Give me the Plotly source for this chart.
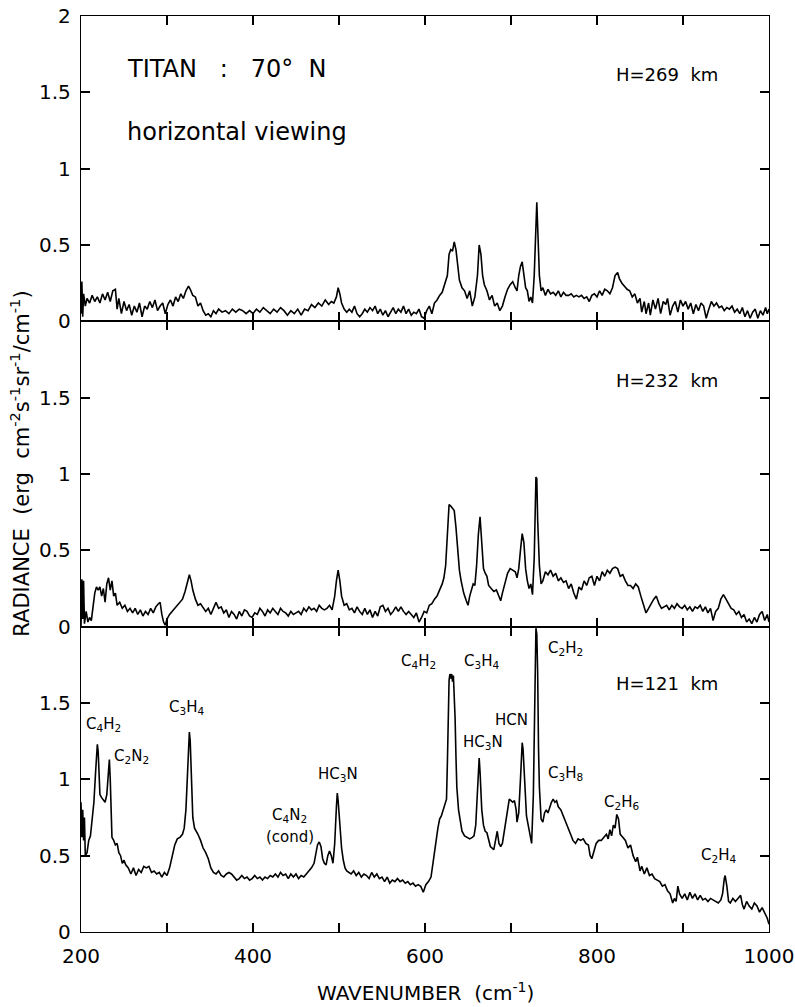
import plotly.graph_objects as go
from plotly.subplots import make_subplots

# ---------------- data ----------------
# H = 269 km
wn_269 = [200, 201, 202, 203, 205, 207, 210, 213, 216, 219, 222, 225, 228, 231, 234, 237, 240, 242, 244, 247,
          250, 253, 256, 259, 262, 265, 268, 271, 274, 277, 280, 283, 286, 289, 292, 295, 298, 301, 304, 307,
          310, 313, 316, 319, 322, 325, 327, 330, 333, 336, 339, 342, 345, 348, 351, 354, 357, 360, 364, 368,
          372, 376, 380, 384, 388, 392, 396, 400, 404, 408, 412, 416, 420, 424, 428, 432, 436, 440, 444, 448,
          452, 456, 460, 464, 468, 472, 476, 480, 484, 488, 491, 494, 497, 499, 501, 503, 506, 509, 512, 515,
          518, 521, 524, 527, 530, 533, 536, 539, 542, 545, 548, 551, 554, 557, 560, 563, 566, 569, 572, 575,
          578, 581, 584, 587, 590, 593, 596, 599, 602, 605, 608, 611, 614, 617, 620, 623, 626, 628, 630, 632,
          634, 636, 638, 640, 643, 646, 649, 652, 655, 658, 661, 663, 665, 667, 669, 672, 675, 678, 681, 684,
          687, 690, 693, 696, 699, 702, 705, 707, 709, 711, 713, 715, 717, 719, 721, 723, 725, 727, 729, 730,
          731, 733, 735, 737, 740, 743, 746, 749, 752, 755, 758, 761, 764, 767, 770, 773, 776, 779, 782, 785,
          788, 791, 794, 797, 800, 803, 806, 809, 812, 815, 818, 821, 824, 826, 829, 832, 835, 838, 841, 844,
          847, 850, 852, 855, 857, 860, 862, 865, 868, 871, 874, 877, 880, 882, 885, 888, 891, 894, 897, 900,
          903, 906, 909, 912, 915, 918, 921, 924, 927, 930, 933, 936, 939, 942, 945, 948, 951, 954, 957, 960,
          963, 966, 969, 972, 975, 978, 981, 984, 987, 990, 993, 996, 998, 1000]
rad_269 = [0.05, 0.26, 0.03, 0.18, 0.10, 0.15, 0.12, 0.17, 0.13, 0.16, 0.12, 0.18, 0.14, 0.19, 0.13, 0.20, 0.21, 0.08, 0.15, 0.05,
           0.13, 0.07, 0.11, 0.04, 0.10, 0.06, 0.12, 0.03, 0.10, 0.08, 0.13, 0.09, 0.14, 0.07, 0.10, 0.12, 0.05, 0.11, 0.14, 0.10,
           0.16, 0.13, 0.18, 0.15, 0.20, 0.23, 0.21, 0.17, 0.16, 0.10, 0.12, 0.07, 0.04, 0.05, 0.03, 0.07, 0.05, 0.08, 0.06, 0.07,
           0.05, 0.08, 0.06, 0.08, 0.07, 0.05, 0.07, 0.05, 0.08, 0.06, 0.09, 0.07, 0.05, 0.08, 0.06, 0.09, 0.07, 0.04, 0.07, 0.05,
           0.08, 0.04, 0.08, 0.07, 0.11, 0.09, 0.12, 0.10, 0.14, 0.11, 0.13, 0.12, 0.16, 0.22, 0.18, 0.12, 0.08, 0.06, 0.08, 0.06,
           0.10, 0.05, 0.03, 0.05, 0.08, 0.06, 0.09, 0.07, 0.10, 0.05, 0.08, 0.04, 0.07, 0.03, 0.06, 0.09, 0.05, 0.08, 0.06, 0.10,
           0.05, 0.08, 0.04, 0.06, 0.05, 0.08, 0.03, 0.02, 0.07, 0.10, 0.05, 0.12, 0.14, 0.17, 0.19, 0.24, 0.30, 0.44, 0.47, 0.46,
           0.52, 0.47, 0.35, 0.27, 0.22, 0.20, 0.15, 0.20, 0.10, 0.16, 0.30, 0.50, 0.44, 0.30, 0.24, 0.20, 0.14, 0.17, 0.10, 0.12,
           0.07, 0.10, 0.16, 0.21, 0.24, 0.26, 0.22, 0.20, 0.30, 0.36, 0.39, 0.30, 0.22, 0.20, 0.13, 0.16, 0.12, 0.30, 0.66, 0.78,
           0.62, 0.30, 0.20, 0.22, 0.17, 0.21, 0.18, 0.19, 0.17, 0.20, 0.16, 0.19, 0.17, 0.17, 0.18, 0.16, 0.17, 0.16, 0.17, 0.15,
           0.16, 0.13, 0.17, 0.18, 0.16, 0.20, 0.17, 0.21, 0.20, 0.18, 0.22, 0.30, 0.32, 0.28, 0.25, 0.23, 0.21, 0.20, 0.16, 0.18,
           0.12, 0.15, 0.06, 0.13, 0.05, 0.12, 0.04, 0.14, 0.08, 0.15, 0.05, 0.13, 0.11, 0.15, 0.04, 0.10, 0.13, 0.06, 0.14, 0.10,
           0.13, 0.08, 0.12, 0.05, 0.11, 0.07, 0.12, 0.10, 0.02, 0.08, 0.13, 0.10, 0.12, 0.09, 0.10, 0.07, 0.09, 0.08, 0.10, 0.06,
           0.08, 0.05, 0.09, 0.03, 0.07, 0.02, 0.06, 0.08, 0.02, 0.07, 0.04, 0.09, 0.05, 0.08]

# H = 232 km
wn_232 = [200, 201, 202, 203, 204, 206, 208, 210, 212, 214, 216, 218, 220, 222, 224, 226, 228, 230, 232, 234,
          236, 238, 240, 242, 245, 248, 251, 254, 257, 260, 263, 266, 269, 272, 275, 278, 281, 284, 287, 290,
          292, 294, 296, 298, 300, 303, 306, 309, 312, 315, 318, 321, 324, 326, 328, 330, 333, 336, 339, 342,
          345, 348, 351, 354, 357, 360, 363, 366, 369, 372, 375, 378, 381, 384, 387, 390, 393, 396, 399, 402,
          405, 408, 411, 414, 417, 420, 423, 426, 429, 432, 435, 438, 441, 444, 447, 450, 453, 456, 459, 462,
          465, 468, 471, 474, 477, 480, 483, 486, 489, 492, 495, 497, 499, 501, 503, 506, 509, 512, 515, 518,
          521, 524, 527, 530, 533, 536, 539, 542, 545, 548, 551, 554, 557, 560, 563, 566, 569, 572, 575, 578,
          581, 584, 587, 590, 593, 596, 599, 602, 605, 608, 611, 614, 617, 620, 622, 624, 626, 628, 630, 632,
          634, 636, 638, 640, 642, 645, 648, 650, 652, 654, 656, 658, 660, 662, 664, 666, 668, 670, 672, 674,
          677, 680, 683, 686, 688, 690, 693, 696, 699, 702, 705, 707, 709, 711, 713, 715, 717, 719, 721, 723,
          725, 727, 729, 730, 731, 733, 735, 737, 740, 743, 746, 749, 752, 755, 758, 761, 764, 767, 770, 773,
          776, 779, 782, 785, 788, 791, 794, 797, 800, 803, 806, 809, 812, 815, 818, 821, 824, 827, 830, 833,
          836, 839, 842, 845, 848, 851, 854, 857, 860, 863, 866, 869, 872, 875, 878, 881, 884, 887, 890, 893,
          896, 899, 902, 905, 908, 911, 914, 917, 920, 923, 926, 929, 932, 935, 938, 941, 944, 947, 950, 953,
          956, 959, 962, 965, 968, 971, 974, 977, 980, 983, 986, 989, 992, 995, 998, 1000]
rad_232 = [0.00, 0.31, 0.05, 0.30, 0.02, 0.10, 0.03, 0.06, 0.04, 0.15, 0.22, 0.26, 0.24, 0.26, 0.20, 0.25, 0.16, 0.28, 0.32, 0.24,
           0.30, 0.20, 0.22, 0.14, 0.16, 0.12, 0.14, 0.10, 0.12, 0.09, 0.12, 0.08, 0.11, 0.07, 0.10, 0.08, 0.12, 0.09, 0.13, 0.15,
           0.16, 0.08, 0.03, 0.01, 0.05, 0.08, 0.10, 0.12, 0.14, 0.16, 0.18, 0.23, 0.30, 0.34, 0.30, 0.24, 0.18, 0.14, 0.15, 0.12,
           0.10, 0.12, 0.08, 0.12, 0.16, 0.12, 0.13, 0.09, 0.11, 0.06, 0.10, 0.08, 0.05, 0.10, 0.07, 0.11, 0.10, 0.07, 0.06, 0.09,
           0.08, 0.12, 0.10, 0.07, 0.11, 0.09, 0.12, 0.10, 0.08, 0.12, 0.10, 0.09, 0.07, 0.10, 0.08, 0.09, 0.10, 0.08, 0.12, 0.10,
           0.13, 0.11, 0.12, 0.10, 0.14, 0.12, 0.11, 0.12, 0.14, 0.11, 0.20, 0.30, 0.37, 0.30, 0.20, 0.14, 0.15, 0.11, 0.12, 0.09,
           0.13, 0.10, 0.08, 0.12, 0.08, 0.11, 0.06, 0.10, 0.07, 0.13, 0.14, 0.10, 0.12, 0.08, 0.10, 0.13, 0.10, 0.13, 0.10, 0.08,
           0.10, 0.08, 0.06, 0.09, 0.03, 0.06, 0.10, 0.09, 0.14, 0.15, 0.18, 0.20, 0.24, 0.28, 0.32, 0.40, 0.60, 0.80, 0.79, 0.77,
           0.76, 0.65, 0.50, 0.37, 0.30, 0.22, 0.17, 0.14, 0.20, 0.24, 0.28, 0.27, 0.40, 0.60, 0.72, 0.55, 0.38, 0.35, 0.33, 0.27,
           0.25, 0.23, 0.24, 0.20, 0.17, 0.22, 0.28, 0.35, 0.38, 0.37, 0.36, 0.32, 0.38, 0.50, 0.61, 0.55, 0.38, 0.30, 0.25, 0.28,
           0.21, 0.45, 0.98, 0.97, 0.70, 0.40, 0.28, 0.30, 0.36, 0.34, 0.37, 0.33, 0.35, 0.30, 0.32, 0.29, 0.30, 0.25, 0.28, 0.22,
           0.18, 0.26, 0.24, 0.30, 0.27, 0.32, 0.33, 0.27, 0.33, 0.30, 0.36, 0.33, 0.37, 0.35, 0.38, 0.39, 0.38, 0.33, 0.34, 0.30,
           0.27, 0.27, 0.25, 0.28, 0.26, 0.20, 0.15, 0.09, 0.12, 0.15, 0.18, 0.20, 0.15, 0.12, 0.13, 0.14, 0.11, 0.14, 0.12, 0.15,
           0.13, 0.12, 0.14, 0.11, 0.13, 0.10, 0.13, 0.12, 0.14, 0.10, 0.13, 0.09, 0.12, 0.04, 0.10, 0.12, 0.18, 0.21, 0.18, 0.15,
           0.12, 0.11, 0.08, 0.10, 0.06, 0.08, 0.03, 0.05, 0.02, 0.06, 0.03, 0.08, 0.10, 0.04, 0.08, 0.03]

# H = 121 km
wn_121 = [200, 201, 202, 203, 204, 205, 207, 209, 211, 213, 215, 217, 219, 220, 221, 222, 224, 226, 228, 230,
          232, 233, 234, 235, 236, 238, 240, 242, 244, 246, 248, 250, 252, 255, 258, 261, 264, 267, 270, 273,
          276, 279, 282, 285, 288, 291, 294, 297, 300, 303, 306, 309, 312, 315, 318, 320, 322, 324, 325, 326,
          327, 328, 329, 330, 332, 334, 336, 339, 342, 345, 348, 351, 354, 357, 360, 363, 366, 369, 372, 375,
          378, 381, 384, 387, 390, 393, 396, 399, 402, 405, 408, 411, 414, 417, 420, 423, 426, 429, 432, 435,
          438, 441, 444, 447, 450, 453, 456, 459, 462, 465, 468, 471, 473, 475, 477, 479, 481, 483, 485, 487,
          489, 491, 493, 495, 497, 498, 499, 501, 503, 505, 507, 509, 511, 514, 517, 520, 523, 526, 529, 532,
          535, 538, 541, 544, 547, 550, 553, 556, 559, 562, 565, 568, 571, 574, 577, 580, 583, 586, 589, 592,
          595, 598, 601, 604, 607, 609, 611, 613, 615, 617, 619, 621, 623, 625, 626, 627, 628, 629, 630, 631,
          632, 633, 634, 635, 636, 637, 639, 641, 643, 646, 649, 652, 655, 657, 659, 661, 663, 664, 666, 668,
          670, 672, 674, 676, 678, 680, 682, 684, 686, 688, 690, 692, 694, 696, 698, 700, 702, 704, 706, 707,
          709, 711, 713, 714, 716, 718, 720, 722, 724, 726, 727, 728, 729, 730, 731, 732, 733, 735, 737, 739,
          741, 743, 745, 747, 749, 751, 753, 755, 758, 761, 764, 767, 770, 772, 775, 778, 781, 784, 787, 790,
          792, 794, 796, 799, 802, 805, 808, 811, 813, 815, 817, 819, 821, 823, 825, 827, 830, 833, 836, 839,
          842, 845, 847, 850, 852, 855, 858, 861, 864, 867, 870, 873, 876, 879, 882, 885, 888, 890, 892, 894,
          896, 899, 902, 905, 908, 911, 914, 917, 920, 923, 926, 929, 932, 935, 938, 941, 944, 946, 948, 949,
          951, 953, 955, 958, 961, 964, 967, 969, 971, 974, 977, 980, 983, 986, 989, 992, 995, 998, 1000]
rad_121 = [0.85, 0.62, 0.80, 0.60, 0.75, 0.50, 0.52, 0.60, 0.63, 0.75, 0.85, 1.05, 1.23, 1.18, 1.00, 0.90, 0.88, 0.86, 0.85, 0.90,
           1.05, 1.13, 1.00, 0.75, 0.62, 0.60, 0.57, 0.58, 0.52, 0.50, 0.45, 0.47, 0.44, 0.42, 0.38, 0.42, 0.37, 0.41, 0.39, 0.43,
           0.42, 0.43, 0.39, 0.40, 0.38, 0.39, 0.36, 0.39, 0.37, 0.42, 0.50, 0.57, 0.61, 0.62, 0.64, 0.68, 0.80, 1.05, 1.20, 1.31,
           1.25, 1.10, 0.90, 0.75, 0.68, 0.66, 0.64, 0.60, 0.55, 0.52, 0.48, 0.42, 0.39, 0.38, 0.40, 0.37, 0.36, 0.38, 0.39, 0.38,
           0.36, 0.34, 0.35, 0.37, 0.35, 0.36, 0.34, 0.35, 0.37, 0.35, 0.36, 0.34, 0.36, 0.35, 0.37, 0.36, 0.38, 0.36, 0.39, 0.37,
           0.38, 0.35, 0.38, 0.36, 0.38, 0.35, 0.37, 0.36, 0.38, 0.40, 0.42, 0.45, 0.52, 0.57, 0.59, 0.56, 0.48, 0.45, 0.44, 0.50,
           0.53, 0.50, 0.45, 0.58, 0.82, 0.91, 0.86, 0.70, 0.55, 0.47, 0.42, 0.40, 0.39, 0.38, 0.40, 0.37, 0.39, 0.36, 0.38, 0.37,
           0.35, 0.39, 0.36, 0.38, 0.35, 0.36, 0.33, 0.36, 0.32, 0.34, 0.33, 0.35, 0.33, 0.34, 0.32, 0.33, 0.31, 0.32, 0.30, 0.31,
           0.30, 0.26, 0.31, 0.33, 0.36, 0.45, 0.52, 0.60, 0.68, 0.74, 0.76, 0.80, 0.84, 0.87, 1.10, 1.50, 1.65, 1.69, 1.66, 1.69,
           1.64, 1.68, 1.55, 1.40, 1.15, 0.95, 0.80, 0.72, 0.66, 0.63, 0.62, 0.61, 0.62, 0.63, 0.70, 0.90, 1.14, 1.05, 0.80, 0.70,
           0.66, 0.65, 0.60, 0.56, 0.55, 0.54, 0.60, 0.66, 0.58, 0.56, 0.58, 0.65, 0.72, 0.82, 0.87, 0.86, 0.85, 0.86, 0.80, 0.72,
           0.78, 1.00, 1.24, 1.20, 0.95, 0.76, 0.70, 0.65, 0.58, 0.90, 1.40, 1.85, 1.99, 1.95, 1.70, 1.20, 0.95, 0.74, 0.72, 0.78,
           0.80, 0.78, 0.82, 0.85, 0.87, 0.85, 0.86, 0.82, 0.80, 0.76, 0.72, 0.68, 0.63, 0.60, 0.58, 0.61, 0.60, 0.61, 0.58, 0.57,
           0.50, 0.48, 0.52, 0.58, 0.60, 0.60, 0.62, 0.64, 0.61, 0.67, 0.63, 0.70, 0.68, 0.77, 0.74, 0.64, 0.62, 0.60, 0.55, 0.57,
           0.50, 0.46, 0.49, 0.40, 0.43, 0.38, 0.42, 0.37, 0.38, 0.35, 0.34, 0.33, 0.30, 0.31, 0.27, 0.25, 0.19, 0.22, 0.20, 0.30,
           0.25, 0.22, 0.25, 0.21, 0.26, 0.22, 0.25, 0.21, 0.24, 0.21, 0.22, 0.20, 0.22, 0.21, 0.20, 0.19, 0.21, 0.25, 0.35, 0.37,
           0.30, 0.20, 0.19, 0.22, 0.20, 0.22, 0.24, 0.18, 0.15, 0.20, 0.17, 0.15, 0.19, 0.17, 0.13, 0.16, 0.12, 0.09, 0.05]

x_tick_vals = [200, 300, 400, 500, 600, 700, 800, 900, 1000]
x_tick_text = ["200", "", "400", "", "600", "", "800", "", "1000"]
y_tick_vals = [0, 0.5, 1, 1.5, 2]
y_tick_text_top = ["0", "0.5", "1", "1.5", "2"]
y_tick_text_low = ["0", "0.5", "1", "1.5", ""]

altitude_labels = ["H=269  km", "H=232  km", "H=121  km"]

# molecule labels in bottom panel: (text, wavenumber, radiance)
mol_text = ["C<sub>4</sub>H<sub>2</sub>", "C<sub>2</sub>N<sub>2</sub>", "C<sub>3</sub>H<sub>4</sub>",
            "C<sub>4</sub>N<sub>2</sub>", "(cond)", "HC<sub>3</sub>N",
            "C<sub>4</sub>H<sub>2</sub>", "C<sub>3</sub>H<sub>4</sub>", "C<sub>2</sub>H<sub>2</sub>",
            "HCN", "HC<sub>3</sub>N", "C<sub>3</sub>H<sub>8</sub>", "C<sub>2</sub>H<sub>6</sub>",
            "C<sub>2</sub>H<sub>4</sub>"]
mol_x = [226, 259, 323, 443, 443, 499, 592, 666, 763, 701, 667, 763, 829, 941]
mol_y = [1.36, 1.15, 1.47, 0.76, 0.62, 1.03, 1.77, 1.77, 1.86, 1.39, 1.24, 1.04, 0.85, 0.50]

# ---------------- figure ----------------
FONT = "DejaVu Sans"
fig = make_subplots(rows=3, cols=1, shared_xaxes=True, vertical_spacing=0)

for row, (xs, ys) in enumerate([(wn_269, rad_269), (wn_232, rad_232), (wn_121, rad_121)], start=1):
    fig.add_trace(go.Scatter(x=xs, y=ys, mode="lines",
                             line=dict(color="black", width=1.6),
                             showlegend=False, hoverinfo="skip"), row=row, col=1)

for row in (1, 2, 3):
    fig.update_xaxes(range=[200, 1000], showline=True, linewidth=1.3, linecolor="black",
                     mirror="ticks", ticks="inside", ticklen=9, tickwidth=1.5, tickcolor="black",
                     tickvals=x_tick_vals, ticktext=x_tick_text, automargin=False,
                     ticklabelstandoff=6, ticklabeloverflow="allow",
                     showticklabels=(row == 3), showgrid=False, zeroline=False,
                     tickfont=dict(family=FONT, size=20, color="black"), row=row, col=1)
    fig.update_yaxes(range=[0, 2], showline=True, linewidth=1.3, linecolor="black",
                     mirror="ticks", ticks="inside", ticklen=9, tickwidth=1.5, tickcolor="black",
                     tickvals=y_tick_vals, automargin=False, ticklabelstandoff=5,
                     ticklabeloverflow="allow",
                     ticktext=(y_tick_text_top if row == 1 else y_tick_text_low),
                     showgrid=False, zeroline=False,
                     tickfont=dict(family=FONT, size=20, color="black"), row=row, col=1)

annotations = []
# altitude labels
for i, (lab, yv) in enumerate(zip(altitude_labels, [1.62, 1.61, 1.63])):
    sfx = "" if i == 0 else str(i + 1)
    annotations.append(dict(text=lab, x=881, y=yv, xref="x" + sfx, yref="y" + sfx,
                            showarrow=False, font=dict(family=FONT, size=18, color="black")))

annotations.append(dict(text="TITAN   :   70°  N", x=251, y=1.65, xref="x", yref="y",
                        xanchor="left", showarrow=False,
                        font=dict(family=FONT, size=24, color="black")))
annotations.append(dict(text="horizontal viewing", x=251, y=1.24, xref="x", yref="y",
                        xanchor="left", showarrow=False,
                        font=dict(family=FONT, size=24, color="black")))

for t, xv, yv in zip(mol_text, mol_x, mol_y):
    annotations.append(dict(text=t, x=xv, y=yv, xref="x3", yref="y3", showarrow=False,
                            font=dict(family=FONT, size=15, color="black")))

annotations.append(dict(text="RADIANCE  (erg  cm<sup>-2</sup>s<sup>-1</sup>sr<sup>-1</sup>/cm<sup>-1</sup>)",
                        x=-0.089, y=0.511, xref="paper", yref="paper", textangle=-90,
                        xanchor="center", yanchor="middle",
                        showarrow=False, font=dict(family=FONT, size=21, color="black")))
annotations.append(dict(text="WAVENUMBER  (cm<sup>-1</sup>)", x=0.501, y=-0.066,
                        xref="paper", yref="paper", xanchor="center", yanchor="middle",
                        showarrow=False, font=dict(family=FONT, size=20, color="black")))

fig.update_layout(width=795, height=1007, margin=dict(l=81, r=26, t=16, b=75),
                  paper_bgcolor="white", plot_bgcolor="white",
                  annotations=annotations, showlegend=False)

# remove the default page margin so the figure fills the window exactly
fig.write_html("out.html", config={"displayModeBar": False},
               post_script="document.body.style.margin='0';document.body.style.overflow='hidden';")
